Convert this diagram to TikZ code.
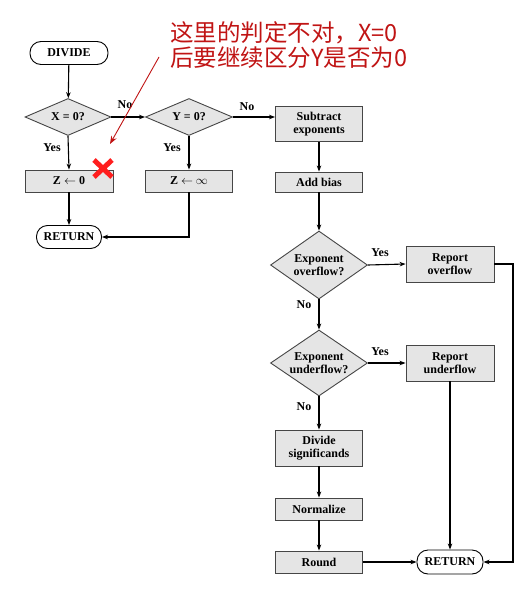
\documentclass[tikz,border=0pt]{standalone}
\usepackage{fontspec}
\setmainfont{Liberation Serif}
\newfontfamily\cjk{Noto Sans CJK SC}
\usetikzlibrary{shapes.geometric,arrows.meta}
\definecolor{boxfill}{RGB}{229,229,229}
\definecolor{boxline}{RGB}{70,70,70}
\definecolor{notered}{RGB}{192,20,20}
\definecolor{markred}{RGB}{255,30,30}
\begin{document}
\begin{tikzpicture}[x=1pt,y=-1pt,
  font=\fontsize{12}{13}\selectfont\bfseries,
  flow/.style={line width=1.1pt,-{Stealth[length=6pt,width=4.5pt]}},
  procbox/.style={draw=boxline,fill=boxfill,line width=0.9pt,rectangle,
    minimum width=87pt,align=center,inner sep=1pt},
  termbox/.style={draw=black,fill=white,line width=0.9pt,rectangle,
    rounded corners=11pt,align=center,inner sep=1pt},
  decide/.style={draw=boxline,fill=boxfill,line width=0.9pt,diamond,
    align=center,inner sep=-2pt,aspect=1.47},
  lbl/.style={inner sep=0pt}
]
\useasboundingbox (0,0) rectangle (530,613);

% left branch: zero tests
\node[termbox,minimum width=78pt,minimum height=23pt] (divide) at (69,53) {DIVIDE};
\node[decide,aspect=2.3,minimum width=86pt,minimum height=37pt] (xz) at (68,117) {X = 0?};
\node[decide,aspect=2.3,minimum width=87pt,minimum height=37pt] (yz) at (189,117) {Y = 0?};
\node[procbox,minimum width=88pt,minimum height=22pt] (zzero) at (69,181) {Z $\leftarrow$ \textbf{0}};
\node[procbox,minimum width=87pt,minimum height=22pt] (zinf) at (189,181) {Z $\leftarrow$ $\infty$};
\node[termbox,minimum width=65pt,minimum height=23pt] (retA) at (69,237) {RETURN};

% main path
\node[procbox,minimum height=35pt] (sub) at (319,124) {Subtract\\exponents};
\node[procbox,minimum height=20pt] (bias) at (319,182) {Add bias};
\node[decide,minimum width=97pt,minimum height=68pt] (ovf) at (319,265) {Exponent\\overflow?};
\node[procbox,minimum width=88pt,minimum height=36pt] (rovf) at (450,264) {Report\\overflow};
\node[decide,minimum width=97pt,minimum height=66pt] (unf) at (319,363) {Exponent\\underflow?};
\node[procbox,minimum width=88pt,minimum height=36pt] (runf) at (450,363) {Report\\underflow};
\node[procbox,minimum height=36pt] (divsig) at (319,448) {Divide\\significands};
\node[procbox,minimum height=22pt] (norm) at (319,509) {Normalize};
\node[procbox,minimum height=22pt] (rnd) at (319,562) {Round};
\node[termbox,minimum width=66pt,minimum height=24pt] (retB) at (450,562) {RETURN};
\coordinate (ovfturn) at (513,264);

% connectors
\draw[flow] (divide) -- (xz);
\draw[flow] (xz.east) -- (yz.west);
\draw[flow] (xz.south) -- (zzero.north);
\draw[flow] (yz.south) -- (zinf.north);
\draw[flow] (yz.east) -- (yz.east -| sub.west);
\draw[flow] (zzero) -- (retA);
\draw[flow] (zinf.south) |- (retA.east);
\draw[flow] (sub) -- (bias);
\draw[flow] (bias) -- (ovf.north);
\draw[flow] (ovf.east) -- (rovf.west);
\draw[flow] (ovf.south) -- (unf.north);
\draw[flow] (rovf.east) -- (ovfturn) |- (retB.east);
\draw[flow] (unf.east) -- (runf.west);
\draw[flow] (unf.south) -- (divsig.north);
\draw[flow] (runf) -- (retB);
\draw[flow] (divsig) -- (norm);
\draw[flow] (norm) -- (rnd);
\draw[flow] (rnd) -- (retB);

% branch labels
\node[lbl] (lno1) at (125,105) {No};
\node[lbl] (lno2) at (247,107) {No};
\node[lbl] (lyes1) at (52,148) {Yes};
\node[lbl] (lyes2) at (172,148) {Yes};
\node[lbl] (lyes3) at (380,253) {Yes};
\node[lbl] (lno3) at (304,305) {No};
\node[lbl] (lyes4) at (380,352) {Yes};
\node[lbl] (lno4) at (304,407) {No};

% annotation
\node[anchor=north west,inner sep=0pt,align=left,text=notered,
  font=\cjk\fontsize{23.5}{25.5}\selectfont] (note) at (170,21)
  {这里的判定不对，X=0\\后要继续区分Y是否为0};
\coordinate (notetail) at (159,57);
\coordinate (notetip) at (110,144);
\draw[draw=notered,line width=0.9pt,-{Stealth[length=8pt,width=6pt]}] (notetail) -- (notetip);

% cross mark on the Z <- 0 box
\draw[markred,line width=5pt] (94,160) -- (112,177) (112,160) -- (94,177);
\end{tikzpicture}
\end{document}
